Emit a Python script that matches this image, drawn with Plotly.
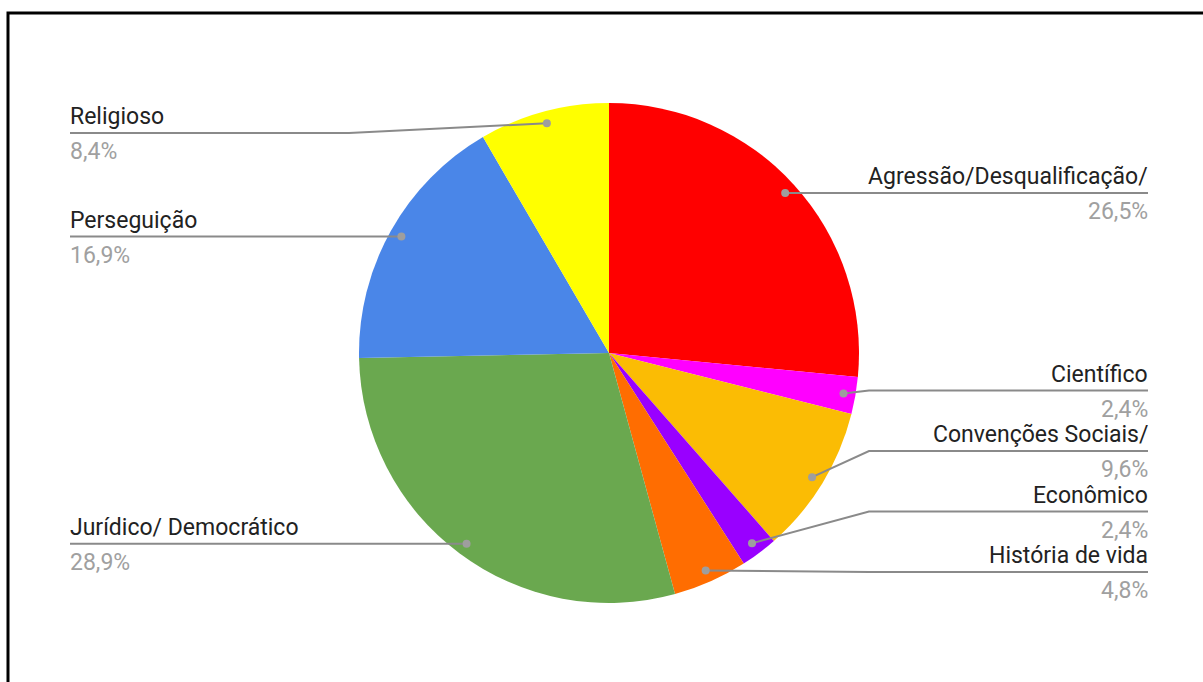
import math
import plotly.graph_objects as go

# Categories and their shares (%)
categories = [
    "Agressão/Desqualificação/",
    "Científico",
    "Convenções Sociais/",
    "Econômico",
    "História de vida",
    "Jurídico/ Democrático",
    "Perseguição",
    "Religioso",
]
shares = [26.5, 2.4, 9.6, 2.4, 4.8, 28.9, 16.9, 8.4]
slice_colors = ["#ff0000", "#ff00ff", "#fbbc04", "#9900ff",
                "#ff6d01", "#6aa84f", "#4a86e8", "#ffff00"]

# Canvas and pie geometry (pixels)
W, H = 1203, 682
CX, CY, R = 609, 353, 250
DOT_R = 0.952 * R          # where each leader line starts
BEND = 1.04 * R            # horizontal offset of the leader bend
EDGE = 539                 # horizontal offset of label edge
GAP = 60.5                 # minimum vertical spacing of labels
Y_LO, Y_HI = 133, 572      # vertical limits for label lines

LABEL_FONT = dict(family="Roboto, Arial, sans-serif", size=23, color="#222222")
PCT_FONT = dict(family="Roboto, Arial, sans-serif", size=23, color="#a0a0a0")
LEADER = "#8a8a8a"


def px(x, y):
    return x / W, 1 - y / H


def spread(items):
    """Resolve overlapping label rows on one side of the pie."""
    items = sorted(items, key=lambda d: d["dot"][1])
    clusters = [[it] for it in items]

    def place(cl):
        n = len(cl)
        mean = sum(it["dot"][1] for it in cl) / n
        top = mean - (n - 1) * GAP / 2
        top = min(max(top, Y_LO), Y_HI - (n - 1) * GAP)
        return top

    changed = True
    while changed:
        changed = False
        for i in range(1, len(clusters)):
            prev_top = place(clusters[i - 1])
            prev_bottom = prev_top + (len(clusters[i - 1]) - 1) * GAP
            if place(clusters[i]) - prev_bottom < GAP - 1e-9:
                clusters[i - 1] = clusters[i - 1] + clusters[i]
                del clusters[i]
                changed = True
                break
    for cl in clusters:
        top = place(cl)
        for k, it in enumerate(cl):
            it["ly"] = top + k * GAP
    return items


total = sum(shares)
rows = []
cum = 0.0
for name, val in zip(categories, shares):
    theta = 2 * math.pi * (cum + val / 2) / total
    cum += val
    dx, dy = DOT_R * math.sin(theta), -DOT_R * math.cos(theta)
    rows.append(dict(name=name, val=val, dot=(CX + dx, CY + dy),
                     side=1 if math.sin(theta) > 0 else -1))

right = spread([r for r in rows if r["side"] > 0])
left = spread([r for r in rows if r["side"] < 0])

fig = go.Figure()
fig.add_trace(go.Pie(
    labels=categories,
    values=shares,
    sort=False,
    direction="clockwise",
    rotation=0,
    marker=dict(colors=slice_colors, line=dict(width=0)),
    textinfo="none",
    hoverinfo="label+percent",
    showlegend=False,
    domain=dict(x=[(CX - R) / W, (CX + R) / W],
                y=[1 - (CY + R) / H, 1 - (CY - R) / H]),
))

shapes = []
annotations = []
for r in right + left:
    s = r["side"]
    x0, y0 = r["dot"]
    ly = r["ly"]
    bx = CX + s * BEND
    ex = CX + s * EDGE
    p = [px(x0, y0), px(bx, ly), px(ex, ly)]
    path = "M {:.5f} {:.5f} L {:.5f} {:.5f} L {:.5f} {:.5f}".format(
        p[0][0], p[0][1], p[1][0], p[1][1], p[2][0], p[2][1])
    shapes.append(dict(type="path", xref="paper", yref="paper", path=path,
                       line=dict(color=LEADER, width=2), layer="above"))
    dxp, dyp = px(x0, y0)
    shapes.append(dict(type="circle", xref="paper", yref="paper",
                       xsizemode="pixel", ysizemode="pixel",
                       xanchor=dxp, yanchor=dyp,
                       x0=-4, x1=4, y0=-4, y1=4,
                       fillcolor="#9e9e9e", line=dict(width=0), layer="above"))
    ax, ay = px(ex, ly)
    anchor = "right" if s > 0 else "left"
    annotations.append(dict(xref="paper", yref="paper", x=ax, y=ay,
                            text=r["name"], showarrow=False,
                            xanchor=anchor, yanchor="bottom",
                            xshift=2 * s, yshift=1,
                            font=LABEL_FONT))
    pct = ("{:.1f}%".format(r["val"])).replace(".", ",")
    annotations.append(dict(xref="paper", yref="paper", x=ax, y=ay,
                            text=pct, showarrow=False,
                            xanchor=anchor, yanchor="top",
                            xshift=2 * s, yshift=-3,
                            font=PCT_FONT))

# Outer frame (top and left edges)
f0 = px(8, H + 10)
f1 = px(8, 13)
f2 = px(W + 10, 13)
shapes.append(dict(type="path", xref="paper", yref="paper",
                   path="M {:.5f} {:.5f} L {:.5f} {:.5f} L {:.5f} {:.5f}".format(
                       f0[0], f0[1], f1[0], f1[1], f2[0], f2[1]),
                   line=dict(color="#000000", width=3), layer="above"))

fig.update_layout(
    width=W, height=H,
    margin=dict(l=0, r=0, t=0, b=0),
    paper_bgcolor="#ffffff",
    plot_bgcolor="#ffffff",
    shapes=shapes,
    annotations=annotations,
)

fig.write_html("out.html")
